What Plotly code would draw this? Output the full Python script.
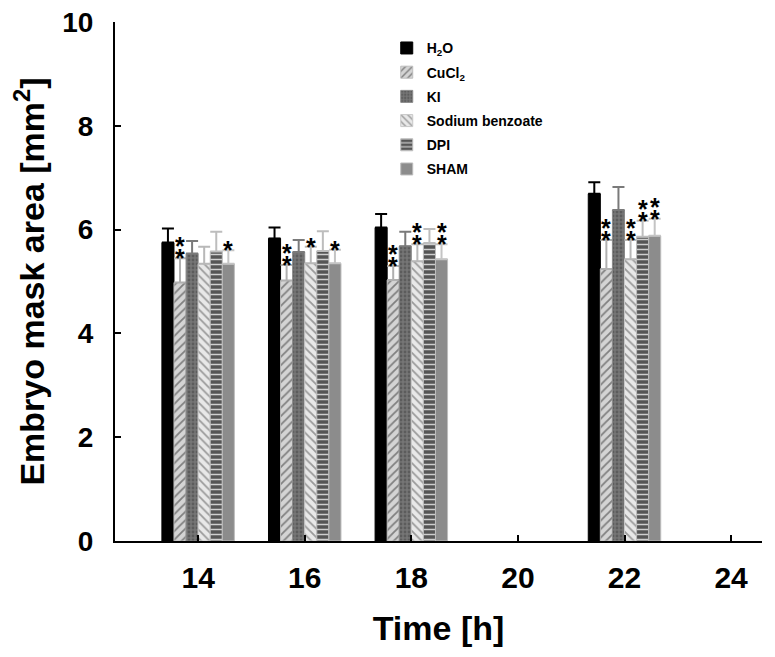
import plotly.graph_objects as go

times = [14, 16, 18, 22]
series = ["H<sub>2</sub>O", "CuCl<sub>2</sub>", "KI", "Sodium benzoate", "DPI", "SHAM"]
h2o = [5.75, 5.83, 6.04, 6.69]
cucl2 = [4.98, 5.02, 5.03, 5.24]
ki = [5.54, 5.57, 5.68, 6.38]
sodium_benzoate = [5.34, 5.35, 5.39, 5.43]
dpi = [5.58, 5.59, 5.74, 5.86]
sham = [5.34, 5.35, 5.43, 5.88]
h2o_err = [0.27, 0.21, 0.26, 0.22]
cucl2_err = [0.47, 0.30, 0.27, 0.56]
ki_err = [0.24, 0.23, 0.28, 0.44]
sodium_benzoate_err = [0.33, 0.32, 0.33, 0.37]
dpi_err = [0.38, 0.38, 0.27, 0.31]
sham_err = [0.26, 0.26, 0.29, 0.33]
# number of significance stars per series per time
h2o_sig = [0, 0, 0, 0]
cucl2_sig = [2, 2, 2, 2]
ki_sig = [0, 0, 0, 0]
sodium_benzoate_sig = [0, 1, 2, 2]
dpi_sig = [0, 0, 0, 2]
sham_sig = [1, 1, 2, 2]
x_ticks = [14, 16, 18, 20, 22, 24]
y_ticks = [0, 2, 4, 6, 8, 10]

values = [h2o, cucl2, ki, sodium_benzoate, dpi, sham]
errors = [h2o_err, cucl2_err, ki_err, sodium_benzoate_err, dpi_err, sham_err]
sigs = [h2o_sig, cucl2_sig, ki_sig, sodium_benzoate_sig, dpi_sig, sham_sig]

styles = [
    dict(color="#000000", line="#000000", err="#000000", pattern=None),
    dict(color="#c8c8c8", line="#bdbdbd", err="#b0b0b0",
         pattern=dict(shape="/", bgcolor="#d4d4d4", fgcolor="#808080", size=6, solidity=0.3, fillmode="replace")),
    dict(color="#707070", line="#8a8a8a", err="#7a7a7a",
         pattern=dict(shape=".", bgcolor="#767676", fgcolor="#5c5c5c", size=4, solidity=0.4, fillmode="replace")),
    dict(color="#e0e0e0", line="#c8c8c8", err="#b8b8b8",
         pattern=dict(shape="\\", bgcolor="#e8e8e8", fgcolor="#9a9a9a", size=6, solidity=0.3, fillmode="replace")),
    dict(color="#5a5a5a", line="#bdbdbd", err="#bdbdbd",
         pattern=dict(shape="-", bgcolor="#555555", fgcolor="#cfcfcf", size=5, solidity=0.3, fillmode="replace")),
    dict(color="#8c8c8c", line="#bdbdbd", err="#c4c4c4", pattern=None),
]

FONT = "Liberation Sans, Arial, sans-serif"
bargap = 0.32
fig = go.Figure()
for idx, (name, vals, errs, st) in enumerate(zip(series, values, errors, styles)):
    marker = dict(color=st["color"], line=dict(color=st["line"], width=1))
    if st["pattern"]:
        marker["pattern"] = st["pattern"]
    fig.add_trace(go.Bar(
        x=times, y=vals, name=name, marker=marker, legendgroup=f"g{idx}",
        error_y=dict(type="data", array=errs, arrayminus=[0] * len(errs), symmetric=False,
                     color=st["err"], thickness=2, width=6),
    ))

# star annotations above error bars
n = len(series)
dt = 2.0
group_w = dt * (1 - bargap)
bw = group_w / n
for i, (vals, errs, sg) in enumerate(zip(values, errors, sigs)):
    for t, v, e, s in zip(times, vals, errs, sg):
        xpos = t - group_w / 2 + bw * (i + 0.5)
        for k in range(s):
            fig.add_annotation(x=xpos, y=v + e, text="*", showarrow=False,
                               xanchor="center", yanchor="middle",
                               yshift=0 + 12 * k,
                               font=dict(family=FONT, size=25, color="black", weight="bold"))

fig.update_layout(
    width=775, height=657,
    margin=dict(l=107, r=21, t=14, b=124),
    plot_bgcolor="white", paper_bgcolor="white",
    barmode="group", bargap=bargap, bargroupgap=0,
    font=dict(family=FONT, color="black"),
    legend=dict(x=0.42, y=0.98, xanchor="left", yanchor="top",
                font=dict(family=FONT, size=14, color="black", weight="bold"),
                itemwidth=30, tracegroupgap=3, bgcolor="rgba(0,0,0,0)"),
    showlegend=True,
)
fig.update_xaxes(range=[12.44, 24.58], tickvals=x_ticks, automargin=False,
                 ticks="inside", ticklen=6, tickwidth=2, tickcolor="black",
                 showline=True, linecolor="black", linewidth=2, showgrid=False, zeroline=False,
                 ticklabelstandoff=9, ticklabeloverflow="allow",
                 tickfont=dict(family=FONT, size=30, weight="bold"),
                 title=dict(text="Time [h]", font=dict(family=FONT, size=34, weight="bold"), standoff=23))
fig.update_yaxes(range=[0, 10], tickvals=y_ticks, automargin=False,
                 ticks="inside", ticklen=6, tickwidth=2, tickcolor="black",
                 showline=True, linecolor="black", linewidth=2, showgrid=False, zeroline=False,
                 ticklabelstandoff=14, ticklabeloverflow="allow",
                 tickfont=dict(family=FONT, size=28, weight="bold"),
                 title=dict(text="Embryo mask area [mm<sup>2</sup>]", font=dict(family=FONT, size=34, weight="bold"), standoff=31))

fig.write_html("out.html")
